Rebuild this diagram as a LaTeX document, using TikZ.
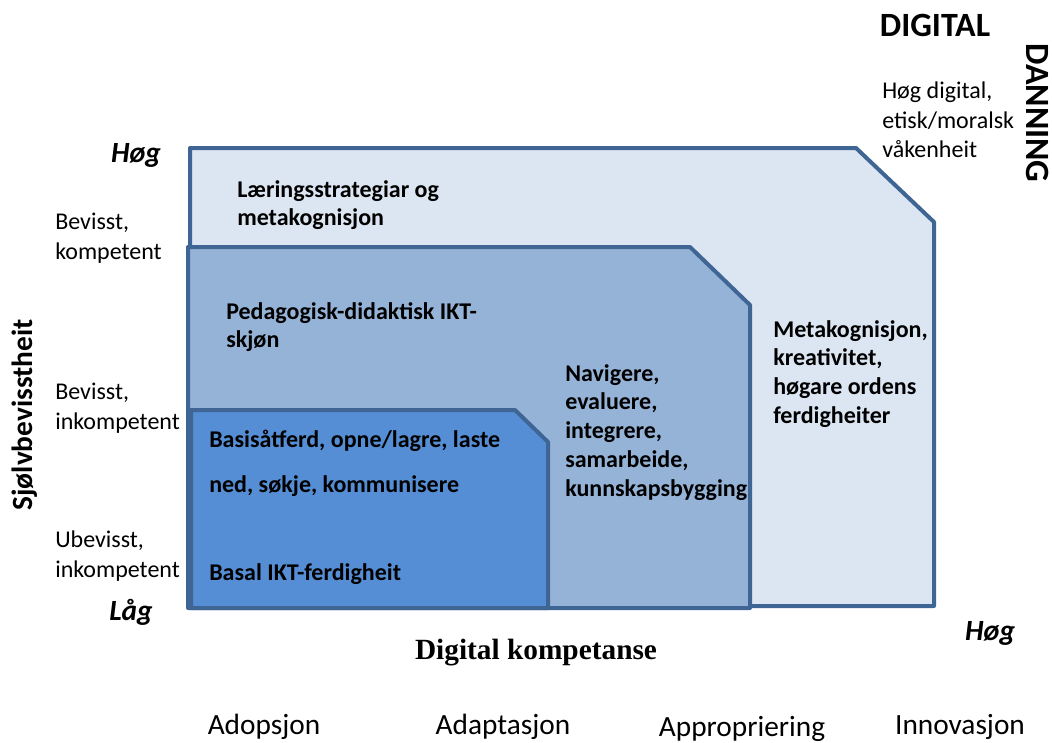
\documentclass[tikz,border=0pt]{standalone}
\usepackage{fontspec}
\setmainfont{Carlito}
\newfontfamily\timesfont{Liberation Serif}
\definecolor{edge}{HTML}{3F6594}
\definecolor{lightf}{HTML}{DCE6F2}
\definecolor{midf}{HTML}{95B3D7}
\definecolor{darkf}{HTML}{558ED5}
\tikzset{
  zone/.style={draw=edge, line width=3pt, line join=round},
  body/.style={font=\fontsize{18}{21.6}\selectfont\bfseries, align=left, anchor=north west, inner sep=0pt},
  side/.style={font=\fontsize{18}{22}\selectfont, align=left, anchor=north west, inner sep=0pt},
  endlbl/.style={font=\fontsize{22}{24}\selectfont\bfseries\itshape, inner sep=0pt},
  phase/.style={font=\fontsize{22}{26}\selectfont, inner sep=0pt},
  title/.style={font=\fontsize{25.5}{28}\selectfont\bfseries, inner sep=0pt}
}
\begin{document}
\begin{tikzpicture}[x=0.75pt,y=-0.75pt]
\useasboundingbox (0,0) rectangle (1052,742);
% zones
\path[zone, fill=lightf] (190,148) -- (856,148) -- (934,222) -- (934,606) -- (190,606) -- cycle;
\path[zone, fill=midf] (188,247) -- (690,247) -- (750,305) -- (750,608) -- (188,608) -- cycle;
\path[zone, fill=darkf] (191,410) -- (515,410) -- (548,442) -- (548,608) -- (191,608) -- cycle;
% zone texts
\node[body] (ls) at (237,180) {Læringsstrategiar og\\metakognisjon};
\node[body] (pd) at (226,302) {Pedagogisk-didaktisk IKT-\\skjøn};
\node[body] (nav) at (565,364) {Navigere,\\evaluere,\\integrere,\\samarbeide,\\kunnskapsbygging};
\node[body] (mk) at (773,320) {Metakognisjon,\\kreativitet,\\høgare ordens\\ferdigheiter};
\node[body, font=\fontsize{18}{33.5}\selectfont\bfseries] (bas) at (209,430) {Basisåtferd, opne/lagre, laste\\ned, søkje, kommunisere};
\node[body] (bik) at (209,563) {Basal IKT-ferdigheit};
% left axis
\node[side] (bk) at (55,213) {Bevisst,\\kompetent};
\node[side] (bi) at (55,383) {Bevisst,\\inkompetent};
\node[side] (ui) at (55,531) {Ubevisst,\\inkompetent};
\node[endlbl] (hy) at (136,155) {Høg};
\node[endlbl] (ly) at (131,612) {Låg};
\node[endlbl] (hx) at (990,633) {Høg};
\node[title, font=\fontsize{22}{24}\selectfont\bfseries, rotate=90] (sj) at (25,415) {Sjølvbevisstheit};
% bottom axis
\node[font=\timesfont\fontsize{22}{24}\selectfont\bfseries, inner sep=0pt] (dk) at (536,653) {Digital kompetanse};
\node[phase] (p1) at (264,727) {Adopsjon};
\node[phase] (p2) at (503,727) {Adaptasjon};
\node[phase] (p3) at (742,729) {Appropriering};
\node[phase] (p4) at (960,727) {Innovasjon};
% top right
\node[title] (dg) at (935,25) {DIGITAL};
\node[title, rotate=-90] (dn) at (1038,113) {DANNING};
\node[side] (hd) at (882,82) {Høg digital,\\etisk/moralsk\\våkenheit};
\end{tikzpicture}
\end{document}
